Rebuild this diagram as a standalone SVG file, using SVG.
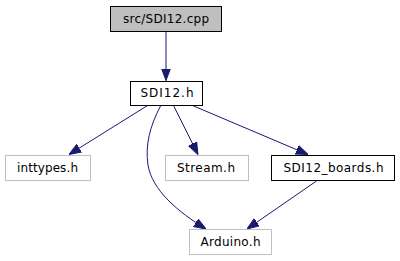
<svg xmlns="http://www.w3.org/2000/svg" width="400" height="261" viewBox="0 0 400 261">
  <style>
    .box { fill: #ffffff; stroke-width: 1; }
    .dep { stroke: #bfbfbf; }
    .own { stroke: #000000; }
    .lbl { font-family: "DejaVu Sans", "Liberation Sans", sans-serif; font-size: 12px; fill: #000000; text-anchor: middle; }
    .edge { fill: none; stroke: #191970; stroke-width: 1; }
  </style>
  <defs>
    <marker id="arrow" viewBox="0 0 12 10" refX="12" refY="5" markerWidth="12" markerHeight="10" markerUnits="userSpaceOnUse" orient="auto">
      <path d="M0,0.5 L12,5 L0,9.5 Z" fill="#191970" stroke="#191970"/>
    </marker>
  </defs>
  <rect width="400" height="261" fill="#ffffff"/>

  <g id="edges">
    <path class="edge" marker-end="url(#arrow)" d="M166,31.5 L166,80.5"/>
    <path class="edge" marker-end="url(#arrow)" d="M147.5,105.5 L69,154.5"/>
    <path class="edge" marker-end="url(#arrow)" d="M160.5,106 C150,126 145,145 148,165 C152,190 178,212 206,229"/>
    <path class="edge" marker-end="url(#arrow)" d="M173.5,105.5 L198,154.5"/>
    <path class="edge" marker-end="url(#arrow)" d="M192.5,105.5 L308,154.5"/>
    <path class="edge" marker-end="url(#arrow)" d="M316.5,181 L247,229"/>
  </g>

  <g id="node-sdi12-cpp">
    <rect class="box own" x="110.5" y="6.5" width="111" height="25" style="fill:#bfbfbf"/>
    <text class="lbl" x="166" y="23" textLength="86">src/SDI12.cpp</text>
  </g>
  <g id="node-sdi12-h">
    <rect class="box own" x="130.5" y="81.5" width="72" height="24"/>
    <text class="lbl" x="167" y="97" textLength="53">SDI12.h</text>
  </g>
  <g id="node-inttypes">
    <rect class="box dep" x="5.5" y="155.5" width="85" height="25"/>
    <text class="lbl" x="47.5" y="172" textLength="61">inttypes.h</text>
  </g>
  <g id="node-stream">
    <rect class="box dep" x="165.5" y="155.5" width="83" height="25"/>
    <text class="lbl" x="206" y="172" textLength="58">Stream.h</text>
  </g>
  <g id="node-sdi12-boards">
    <rect class="box own" x="271.5" y="155.5" width="123" height="25"/>
    <text class="lbl" x="333.5" y="172" textLength="100">SDI12_boards.h</text>
  </g>
  <g id="node-arduino">
    <rect class="box dep" x="189.5" y="229.5" width="82" height="25"/>
    <text class="lbl" x="230.5" y="246" textLength="60">Arduino.h</text>
  </g>
</svg>
